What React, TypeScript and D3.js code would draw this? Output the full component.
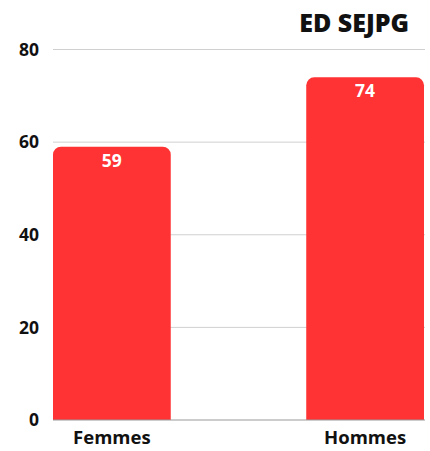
import React from "react";
import * as d3 from "d3";

const categories = ["Femmes", "Hommes"];
const values = [59, 74];
const yTicks = [0, 20, 40, 60, 80];
const title = "ED SEJPG";

export default function App() {
  const W = 430, H = 451;
  const left = 53, right = 424, top = 49.5, bottom = 420;
  const x = d3.scaleBand<string>().domain(categories).range([left, right]).paddingInner(0.535).paddingOuter(0);
  const y = d3.scaleLinear().domain([0, 80]).range([bottom, top]);
  const font = "'Open Sans', sans-serif";
  const r = 8;
  const barPath = (x0: number, w: number, yTop: number, yBot: number) => {
    const p = d3.path();
    p.moveTo(x0, yBot);
    p.lineTo(x0, yTop + r);
    p.arcTo(x0, yTop, x0 + r, yTop, r);
    p.lineTo(x0 + w - r, yTop);
    p.arcTo(x0 + w, yTop, x0 + w, yTop + r, r);
    p.lineTo(x0 + w, yBot);
    p.closePath();
    return p.toString();
  };
  return (
    <svg width={W} height={H} style={{ position: "absolute", left: 0, top: 0 }} fontFamily={font}>
      <rect width={W} height={H} fill="#fff" />
      {yTicks.map((t) => (
        <g key={t}>
          {t !== 0 && <line x1={left} x2={right + 1} y1={y(t)} y2={y(t)} stroke="#d0d0d0" strokeWidth={1} />}
          <text x={39} y={y(t)} dy="0.36em" textAnchor="end" fontSize={17.5} fontWeight={700} fill="#111">{t}</text>
        </g>
      ))}
      {categories.map((c, i) => {
        const x0 = x(c)!;
        const w = x.bandwidth();
        return (
          <g key={c}>
            <path d={barPath(x0, w, y(values[i]), y(0))} fill="#ff3333" />
            <text x={x0 + w / 2} y={y(values[i]) + 20} textAnchor="middle" fontSize={17.5} fontWeight={700} fill="#fff">{values[i]}</text>
            <text x={x0 + w / 2} y={444} textAnchor="middle" fontSize={18.5} fontWeight={700} fill="#111">{c}</text>
          </g>
        );
      })}
      <line x1={left} x2={right + 1} y1={y(0)} y2={y(0)} stroke="#999" strokeWidth={1} />
      <text x={409} y={32} textAnchor="end" fontSize={25} fontWeight={800} fill="#111">{title}</text>
    </svg>
  );
}
